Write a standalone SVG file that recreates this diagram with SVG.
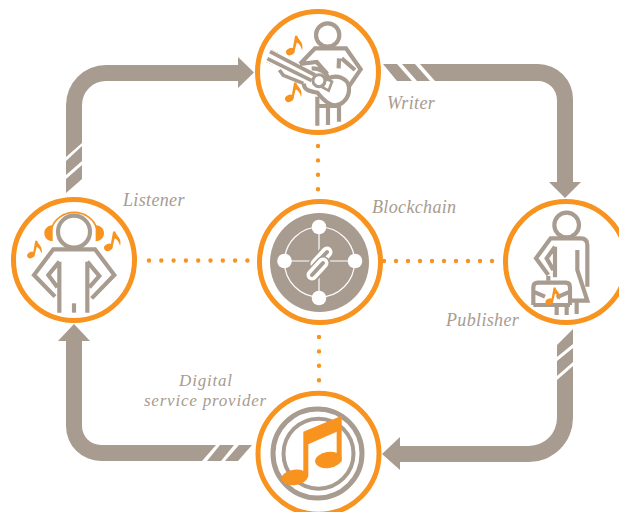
<svg xmlns="http://www.w3.org/2000/svg" width="619" height="512" viewBox="0 0 619 512">
<style>
.arrow{fill:#A89B8F;stroke:none}
.dots{fill:none;stroke:#F7931E;stroke-width:4.4;stroke-linecap:round}
.ring{fill:#fff;stroke:#F7931E;stroke-width:5}
.fig{fill:none;stroke:#A89B8F;stroke-width:12.500;stroke-linejoin:miter}
.or{fill:#F7931E;stroke:none}
.lab{font-family:"Liberation Serif",serif;font-style:italic;font-size:18px;letter-spacing:.35px;fill:#A89B8F}
.lab2{font-size:17px;letter-spacing:.8px}
</style>
<defs>
<g id="note"><ellipse cx="0" cy="0" rx="14" ry="11" transform="rotate(-25)"/><path d="M7 -5L15 -50L22 -50C25 -35 44 -30 37 -4C33 -20 27 -26 20 -28L13 0Z"/></g>
</defs>
<g id="connectors">
<path class="dots" d="M318 146V191" stroke-dasharray="0 14.4"/>
<path class="dots" d="M319 337V382" stroke-dasharray="0 14.4"/>
<path class="dots" d="M149 260.500H249" stroke-dasharray="0 12.3"/>
<path class="dots" d="M384 261H493" stroke-dasharray="0 12"/>
<path class="arrow" d="M66 157V105A40 40 0 0 1 106 65H238V57L254 72.500L238 88V81H106A24 24 0 0 0 82 105V143Z"/>
<path class="arrow" d="M66 161L82 146V161L66 175ZM66 179L82 165V179L66 193Z"/>
<path class="arrow" d="M420 64H538A35 35 0 0 1 573 99V182H581L565 198L549 182H557V100A19 19 0 0 0 538 81H435Z"/>
<path class="arrow" d="M383 64H397L412 81H397ZM402 64H415L430 81H417Z"/>
<path class="arrow" d="M573 366V418A44 44 0 0 1 529 462H400V470L382 454L400 437V446H529A28 28 0 0 0 557 418V380Z"/>
<path class="arrow" d="M573 329V344L557 357V345ZM573 348V362L557 376V361Z"/>
<path class="arrow" d="M74 324L90 341H82V426A19 19 0 0 0 101 445H216L202 461H101A35 35 0 0 1 66 426V341H58Z"/>
<path class="arrow" d="M220 445H234L221 461H207ZM239 445H252L238 461H225Z"/>
</g>
<g id="node-writer">
<circle class="ring" cx="318" cy="72" r="60.500"/>
<g transform="translate(240 0) scale(.33333)">
<circle class="fig" cx="263" cy="105" r="35"/>
<path class="fig" d="M180 192L225 145H318L362 208L325 262M297 175L296 205M305 175L345 210M180 192L230 186L262 222"/>
<path class="fig" style="stroke-width:11" d="M90 155L225 225M82 176L215 242M118 210L130 226L190 250"/>
<path class="fig" d="M215 205C240 205 258 215 265 235C290 222 325 235 327 262C330 298 300 322 275 314C255 307 245 292 232 278C215 275 190 272 192 250"/>
<circle class="fig" style="stroke-width:9" cx="237" cy="242" r="18"/>
<path class="fig" style="stroke-width:8" d="M258 236L276 245L266 272L248 262Z"/>
<path class="fig" d="M232 290V377M264 318V375M297 312V365M232 318H297"/>
<g class="or"><use href="#note" transform="translate(151 155) scale(.95)"/><use href="#note" transform="translate(148 295) scale(.95 .95)"/></g>
<path class="or" d="M98 148l3 2-3 2zM104 152l3 2-3 2zM112 156l3 2-3 2zM80 186l3 1-3 2zM88 190l3 1-3 2zM95 194l3 1-3 2z"/>
</g>
</g>
<g id="node-listener">
<circle class="ring" cx="74" cy="260" r="60.500"/>
<g transform="translate(0 190) scale(.33333)">
<path fill="none" stroke="#F7931E" stroke-width="5" d="M155 115A70 65 0 0 1 290 115"/>
<path class="or" d="M158 106C140 106 133 120 133 130C133 142 142 154 158 154ZM287 106C305 106 312 120 312 130C312 142 303 154 287 154Z"/>
<circle class="fig" cx="222" cy="125" r="48"/>
<path class="fig" d="M165 320L102 255L160 178H285L343 255L275 325M178 215V368M262 215V368M178 215L145 255L172 292M262 215L298 258L268 292"/>
<path class="fig" d="M222 340V368"/>
<g class="or"><use href="#note" transform="translate(93 195) scale(.85)"/><use href="#note" transform="translate(325 172) scale(.95)"/></g>
</g>
</g>
<g id="node-blockchain">
<circle class="ring" cx="320" cy="262" r="60.500"/>
<circle cx="319.500" cy="262.500" r="49.500" fill="#A89B8F"/>
<circle cx="319.500" cy="262" r="35" fill="none" stroke="#fff" stroke-width="1.200"/>
<path fill="none" stroke="#fff" stroke-width="1.200" d="M319 227V298M284.500 261H355"/>
<g fill="#fff"><circle cx="319" cy="227" r="7.300"/><circle cx="284.500" cy="261" r="7.300"/><circle cx="355" cy="261" r="7.300"/><circle cx="319" cy="298" r="7.300"/></g>
<g fill="none" stroke-linecap="round">
<path stroke="#A89B8F" stroke-width="15" d="M327 252L316 264M323 263L312 275"/>
<path stroke="#fff" stroke-width="11" d="M327 252L316 264"/>
<path stroke="#A89B8F" stroke-width="4" d="M327 252L316 264"/>
<path stroke="#A89B8F" stroke-width="14" d="M323 263L312 275"/>
<path stroke="#fff" stroke-width="11" d="M323 263L312 275"/>
<path stroke="#A89B8F" stroke-width="4" d="M323 263L312 275"/>
</g>
</g>
<g id="node-publisher">
<circle class="ring" cx="566" cy="262" r="60.500"/>
<g transform="translate(490 190) scale(.33333)">
<circle class="fig" cx="230" cy="105" r="37"/>
<path class="fig" d="M175 255L138 205L182 145H272Q292 145 292 165V290M195 170V262M195 170L170 205L190 240M262 180V240L292 332H245"/>
<path class="fig" d="M260 335V372M230 350V375M200 350V375M175 272V258"/>
<path class="fig" d="M130 345V292Q130 278 144 278H228Q240 278 240 292V345M130 345H240M130 305L165 320M240 305L200 322"/>
<use class="or" href="#note" transform="translate(178 335) scale(.85)"/>
</g>
</g>
<g id="node-service-provider">
<circle class="ring" cx="318.500" cy="453.700" r="60.500"/>
<circle cx="317.500" cy="453.500" r="44.500" fill="none" stroke="#A89B8F" stroke-width="5"/>
<circle cx="318.500" cy="453.700" r="35" fill="none" stroke="#A89B8F" stroke-width="4"/>
<g transform="translate(190 380) scale(.33333)" class="or">
<path d="M340 155L455 107V245H440V155L355 193V290H340Z"/>
<ellipse cx="314" cy="292" rx="40" ry="23" transform="rotate(-8 314 292)"/>
<ellipse cx="415" cy="240" rx="40" ry="24" transform="rotate(-8 415 240)"/>
</g>
</g>
<g id="labels">
<text class="lab" x="123" y="206">Listener</text>
<text class="lab" x="387" y="109">Writer</text>
<text class="lab" x="372" y="213">Blockchain</text>
<text class="lab" x="446" y="326">Publisher</text>
<text class="lab lab2" text-anchor="middle"><tspan x="206" y="386">Digital</tspan><tspan x="205.500" y="406">service provider</tspan></text>
</g>
</svg>
